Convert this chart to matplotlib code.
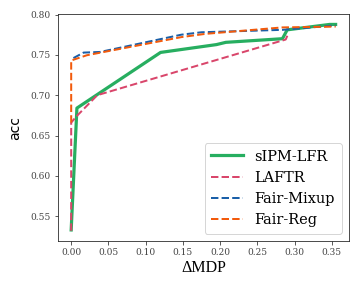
import matplotlib
matplotlib.use("Agg")
import matplotlib.pyplot as plt

series_names = ["sIPM-LFR", "LAFTR", "Fair-Mixup", "Fair-Reg"]

sipm_x = [0.0, 0.0077, 0.120, 0.195, 0.2076, 0.2836, 0.290, 0.347, 0.355]
sipm_y = [0.533, 0.684, 0.753, 0.7627, 0.7655, 0.770, 0.781, 0.7877, 0.7877]

laftr_x = [0.0, 0.0, 0.0068, 0.035, 0.288, 0.2917]
laftr_y = [0.532, 0.666, 0.6735, 0.700, 0.769, 0.777]

mixup_x = [0.003, 0.0167, 0.039, 0.148, 0.175, 0.2836, 0.355]
mixup_y = [0.746, 0.7528, 0.7536, 0.775, 0.778, 0.7810, 0.7865]

reg_x = [0.0, 0.0, 0.021, 0.148, 0.180, 0.2836, 0.355]
reg_y = [0.666, 0.743, 0.7495, 0.772, 0.776, 0.7840, 0.785]

colors = ["#27ae60", "#d9466b", "#1a5fa8", "#f25a0c"]

fig = plt.figure(figsize=(5, 4), dpi=72)
ax = fig.add_axes([0.161, 0.163, 0.808, 0.788])

ax.plot(sipm_x, sipm_y, color=colors[0], lw=3.2, label=series_names[0])
ax.plot(laftr_x, laftr_y, color=colors[1], lw=2, ls="--", label=series_names[1])
ax.plot(mixup_x, mixup_y, color=colors[2], lw=2, ls="--", label=series_names[2])
ax.plot(reg_x, reg_y, color=colors[3], lw=2, ls="--", label=series_names[3])

ax.set_yticks([0.55, 0.60, 0.65, 0.70, 0.75, 0.80])
ax.set_xticks([0.0, 0.05, 0.10, 0.15, 0.20, 0.25, 0.30, 0.35])
ax.yaxis.set_major_formatter(matplotlib.ticker.FormatStrFormatter("%.2f"))
ax.xaxis.set_major_formatter(matplotlib.ticker.FormatStrFormatter("%.2f"))
for lab in ax.get_xticklabels() + ax.get_yticklabels():
    lab.set_fontfamily("DejaVu Serif")
    lab.set_fontsize(9)
ax.tick_params(colors="#333333", labelcolor="#444444")
for s in ax.spines.values():
    s.set_color("#222222")

ax.set_xlabel("ΔMDP", fontsize=16, family="Liberation Serif", labelpad=3)
ax.set_ylabel("acc", fontsize=14, family="DejaVu Sans", labelpad=8)

leg = ax.legend(loc="lower right", prop={"family": "DejaVu Serif", "size": 14.5},
                handlelength=2.2, borderpad=0.45, labelspacing=0.5, frameon=True)
leg.get_frame().set_edgecolor("#cccccc")

fig.savefig("out.png", dpi=72)
